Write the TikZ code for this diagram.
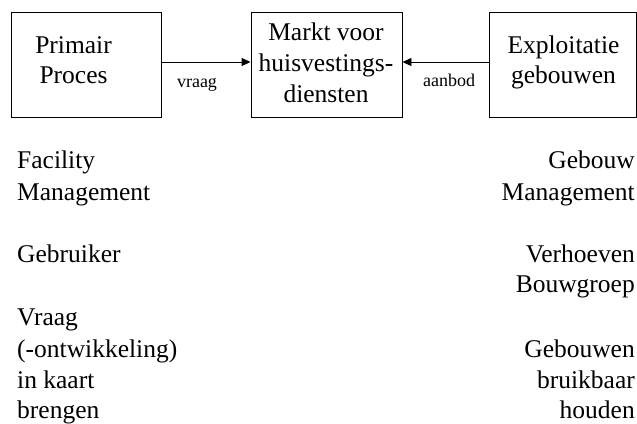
\documentclass[tikz,border=0pt]{standalone}
\usepackage{fontspec}
\setmainfont{Liberation Serif}
\usetikzlibrary{arrows.meta}
\begin{document}
\begin{tikzpicture}[x=1pt,y=-1pt,
  box/.style={draw,line width=0.9pt,rectangle,inner sep=0pt},
  big/.style={font=\fontsize{25.5}{31}\selectfont,inner sep=0pt},
  small/.style={font=\fontsize{18}{20}\selectfont,inner sep=0pt},
  flow/.style={line width=0.9pt,-{Triangle[length=9pt,width=8pt]}}]
\useasboundingbox (0,0) rectangle (637,423);
% boxes
\node[box,minimum width=150pt,minimum height=104.5pt] (pp) at (86,64.7) {};
\node[box,minimum width=151pt,minimum height=104.5pt] (mk) at (326.5,64.7) {};
\node[box,minimum width=147pt,minimum height=104.5pt] (ex) at (562.5,64.7) {};
% box texts
\node[big,anchor=base] (pp1) at (73.5,53) {Primair};
\node[big,anchor=base] (pp2) at (73.5,83) {Proces};
\node[big,anchor=base] (mk1) at (326,40) {Markt voor};
\node[big,anchor=base] (mk2) at (326,71) {huisvestings-};
\node[big,anchor=base] (mk3) at (326,102) {diensten};
\node[big,anchor=base] (ex1) at (563.5,53) {Exploitatie};
\node[big,anchor=base] (ex2) at (563.5,83) {gebouwen};
% arrows
\coordinate (a1) at (pp.east |- 0,62);
\coordinate (a2) at (mk.west |- 0,62);
\coordinate (b1) at (ex.west |- 0,62);
\coordinate (b2) at (mk.east |- 0,62);
\draw[flow] (a1) -- (a2);
\draw[flow] (b1) -- (b2);
\node[small,anchor=base] (vr) at (197,87) {vraag};
\node[small,anchor=base] (ab) at (449,86) {aanbod};
% left column
\node[big,anchor=base west] (l1) at (17,168) {Facility};
\node[big,anchor=base west] (l2) at (17,200) {Management};
\node[big,anchor=base west] (l3) at (17,262) {Gebruiker};
\node[big,anchor=base west] (l4) at (17,325) {Vraag};
\node[big,anchor=base west] (l5) at (17,357) {(-ontwikkeling)};
\node[big,anchor=base west] (l6) at (17,388) {in kaart};
\node[big,anchor=base west] (l7) at (17,418) {brengen};
% right column
\node[big,anchor=base east] (r1) at (635,168) {Gebouw};
\node[big,anchor=base east] (r2) at (635,200) {Management};
\node[big,anchor=base east] (r3) at (635,262) {Verhoeven};
\node[big,anchor=base east] (r4) at (635,292) {Bouwgroep};
\node[big,anchor=base east] (r5) at (635,357) {Gebouwen};
\node[big,anchor=base east] (r6) at (635,388) {bruikbaar};
\node[big,anchor=base east] (r7) at (635,418) {houden};
\end{tikzpicture}
\end{document}
